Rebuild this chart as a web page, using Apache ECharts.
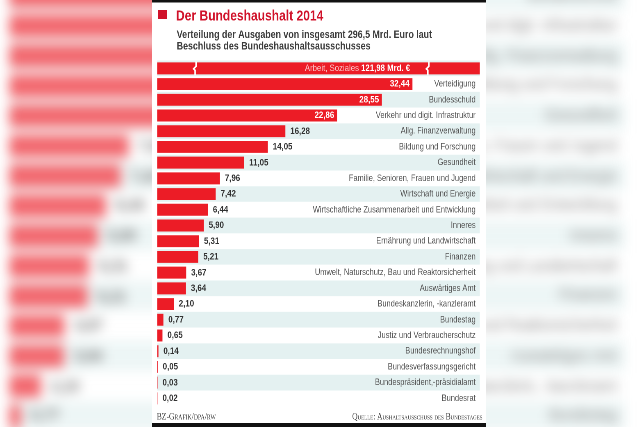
<!DOCTYPE html>
<html>
<head>
<meta charset="utf-8">
<script src="https://cdn.jsdelivr.net/npm/echarts@6/dist/echarts.min.js"></script>
<style>
  html, body { margin: 0; padding: 0; width: 640px; height: 427px; overflow: hidden; background: #ffffff; }
  .frame { position: absolute; left: 152px; top: 0; width: 334px; height: 427px; overflow: hidden; }
  #bg { transform: scale(1.91); transform-origin: 168px 214px; filter: blur(3px); opacity: 0.66; overflow: visible; }
  #card { background: #ffffff; }
  .inner { position: absolute; left: 0; top: 0; width: 407.3px; height: 427px; transform: scaleX(0.82); transform-origin: 0 0; }
</style>
</head>
<body>
<div id="bg" class="frame"><div id="bgInner" class="inner"></div></div>
<div id="card" class="frame"><div id="cardInner" class="inner"></div></div>
<script>
// ---- data ----
const titleText = 'Der Bundeshaushalt 2014';
const subtitleLines = ['Verteilung der Ausgaben von insgesamt 296,5 Mrd. Euro laut', 'Beschluss des Bundeshaushaltsausschusses'];
const footerLeft = 'BZ-Grafik/dpa/rw';
const footerRight = 'Quelle: Aushaltsausschuss des Bundestages';
const categories = [
  'Arbeit, Soziales', 'Verteidigung', 'Bundesschuld', 'Verkehr und digit. Infrastruktur',
  'Allg. Finanzverwaltung', 'Bildung und Forschung', 'Gesundheit',
  'Familie, Senioren, Frauen und Jugend', 'Wirtschaft und Energie',
  'Wirtschaftliche Zusammenarbeit und Entwicklung', 'Inneres', 'Ernährung und Landwirtschaft',
  'Finanzen', 'Umwelt, Naturschutz, Bau und Reaktorsicherheit', 'Auswärtiges Amt',
  'Bundeskanzlerin, -kanzleramt', 'Bundestag', 'Justiz und Verbraucherschutz',
  'Bundesrechnungshof', 'Bundesverfassungsgericht', 'Bundespräsident,-präsidialamt', 'Bundesrat'
];
const values = [121.98, 32.44, 28.55, 22.86, 16.28, 14.05, 11.05, 7.96, 7.42, 6.44, 5.90, 5.31,
  5.21, 3.67, 3.64, 2.10, 0.77, 0.65, 0.14, 0.05, 0.03, 0.02];
const axisMax = 41;          // visible scale; the first bar is broken
const breakAt = [4.8, 34.4]; // positions of the break marks on the first bar

const RED = '#ec1c26';
const SANS = "'Liberation Sans', Arial, sans-serif";
const SERIF = "'Liberation Serif', serif";
const fmt = v => v.toFixed(2).replace('.', ',');

function buildOption() {
  const data = values.map((v, i) => {
    if (i === 0) {
      return { value: v, label: { position: 'insideRight', distance: 85,
        formatter: () => '{a|' + categories[0] + ' }{b|' + fmt(v) + ' Mrd. €}',
        rich: { a: { color: '#fbc4c6', fontSize: 9.5, fontWeight: 'normal', fontFamily: SANS },
                b: { color: '#ffffff', fontSize: 9.5, fontWeight: 'bold', fontFamily: SANS } } } };
    }
    if (v > 20) {
      return { value: v, label: { position: 'insideRight', distance: 3.5, color: '#ffffff' } };
    }
    return v;
  });
  return {
    animation: false,
    title: [
      { text: titleText, left: 29.3, top: 9, padding: 0,
        textStyle: { color: '#d0122a', fontSize: 14.7, fontWeight: 'bold', fontFamily: SANS } },
      { text: subtitleLines.join('\n'), left: 30.1, top: 29, padding: 0,
        textStyle: { color: '#3c3c3c', fontSize: 10.8, fontWeight: 'bold', fontFamily: SANS, lineHeight: 11.7 } },
      { text: footerLeft, left: 5.7, top: 412.5, padding: 0,
        textStyle: { color: '#444', fontSize: 9.3, fontWeight: 'normal', fontStyle: 'small-caps', fontFamily: SERIF } },
      { text: footerRight, right: 4, top: 412.5, padding: 0,
        textStyle: { color: '#444', fontSize: 9.1, fontWeight: 'normal', fontStyle: 'small-caps', fontFamily: SERIF } }
    ],
    grid: { left: 6.5, right: 7.3, top: 60.5, bottom: 20.8, containLabel: false },
    xAxis: { type: 'value', min: 0, max: axisMax, show: false },
    yAxis: {
      type: 'category', data: categories, inverse: true, position: 'right',
      axisLine: { show: false }, axisTick: { show: false },
      splitArea: { show: true, areaStyle: { color: ['#e4f1f1', '#ffffff'] } },
      axisLabel: { inside: true, margin: 5, color: '#555', fontSize: 9.1, fontFamily: SANS,
        formatter: (v, i) => (i === 0 ? '' : v) }
    },
    series: [{
      type: 'bar', data: data, barCategoryGap: '24%', clip: true,
      itemStyle: { color: RED },
      label: { show: true, position: 'right', distance: 6, color: '#333', fontSize: 9.6,
        fontWeight: 'bold', fontFamily: SANS, formatter: p => fmt(p.value) }
    }]
  };
}

function build(el, dpr) {
  const chart = echarts.init(el, null, { renderer: 'canvas', devicePixelRatio: dpr });
  chart.setOption(buildOption());
  const W = 407.3;
  const graphics = [
    { type: 'rect', shape: { x: 0, y: 0, width: W, height: 2.5 }, style: { fill: '#111' } },
    { type: 'rect', shape: { x: 0, y: 423, width: W, height: 4 }, style: { fill: '#111' } },
    { type: 'rect', shape: { x: 7.3, y: 10, width: 11, height: 9 }, style: { fill: '#d0122a' } }
  ];
  const yc = chart.convertToPixel({ seriesIndex: 0 }, [0, 0])[1];
  breakAt.forEach(b => {
    const x = chart.convertToPixel({ seriesIndex: 0 }, [b, 0])[0];
    graphics.push({ type: 'polyline', z: 100,
      shape: { points: [[x + 1.2, yc - 7], [x + 1.2, yc - 2], [x - 1.8, yc + 0.5], [x, yc + 2], [x, yc + 7]] },
      style: { stroke: '#ffffff', lineWidth: 1.8, fill: null } });
  });
  chart.setOption({ graphic: graphics });
  return chart;
}

build(document.getElementById('bgInner'), 1);
build(document.getElementById('cardInner'), 2);
</script>
</body>
</html>
